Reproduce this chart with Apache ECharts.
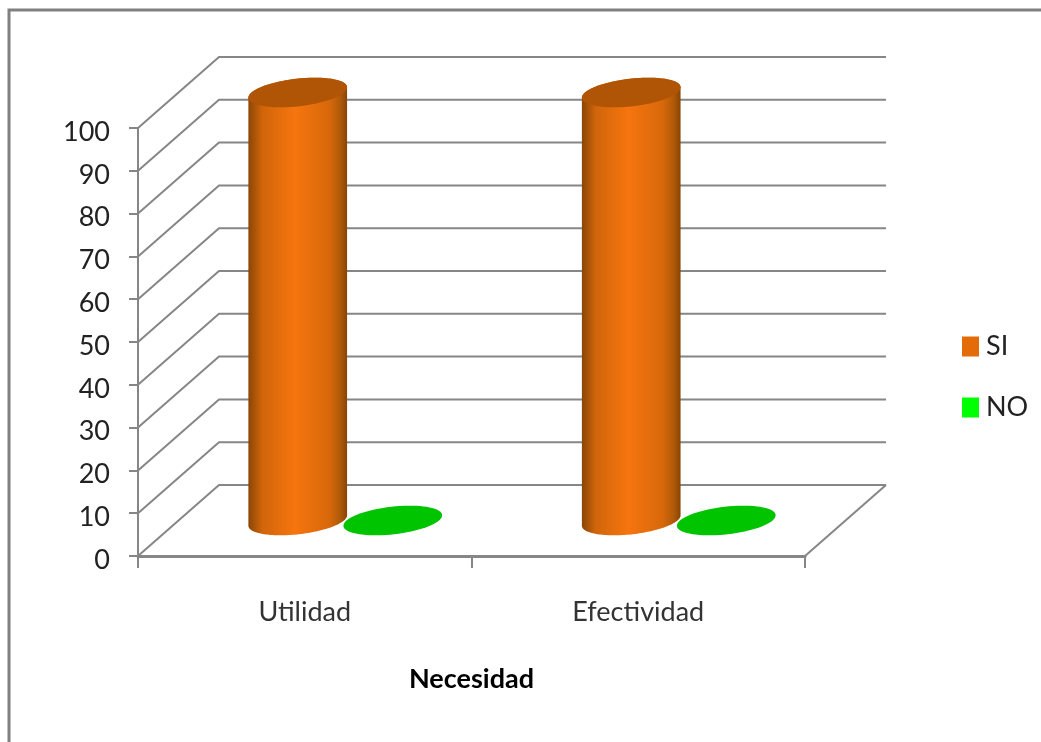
<!DOCTYPE html>
<html>
<head>
<meta charset="utf-8">
<style>html,body{margin:0;padding:0;background:#fff}#chart{width:1041px;height:742px}</style>
<script src="https://cdn.jsdelivr.net/npm/echarts@6/dist/echarts.min.js"></script>
</head>
<body>
<div id="chart"></div>
<script>
// Survey answers per need, in percent
const categories = ['Utilidad', 'Efectividad'];
const siValues = [100, 100];
const noValues = [0, 0];
const gridTicks = [0, 10, 20, 30, 40, 50, 60, 70, 80, 90, 100];

const FONT = 'Lato, "Open Sans", sans-serif';
const WALL = '#868686';
// Oblique projection of the chart box
const DEPTH_X = 81, DEPTH_Y = -71;
const BAR_BAND = 0.285;      // cylinder width as a share of the category band
const TILT = -6.5 * Math.PI / 180;

const chart = echarts.init(document.getElementById('chart'), null, {renderer: 'canvas'});

function ellipsePoints(cx, cy, a, b, from, to) {
  const pts = [];
  const n = 72;
  for (let i = 0; i <= n; i++) {
    const t = from + (to - from) * i / n;
    const x = a * Math.cos(t), y = b * Math.sin(t);
    pts.push([cx + x * Math.cos(TILT) - y * Math.sin(TILT),
              cy + x * Math.sin(TILT) + y * Math.cos(TILT)]);
  }
  return pts;
}

// Cylinder standing on the mid-depth of the floor, side-by-side within its category
function cylinder(slot, topColor, sideStops) {
  return function (params, api) {
    const band = api.size([1, 0])[0];
    const width = band * BAR_BAND;
    const a = width / 2 * 1.045, b = width * 0.145;
    const base = api.coord([api.value(0), 0]);
    const head = api.coord([api.value(0), api.value(1)]);
    const cx = base[0] + slot * width / 2 + DEPTH_X / 2;
    const y0 = base[1] + DEPTH_Y / 2;
    const y1 = head[1] + DEPTH_Y / 2;
    const children = [];
    if (y0 - y1 > 0.5) {
      const lower = ellipsePoints(cx, y0, a, b, 0, Math.PI);
      const upper = ellipsePoints(cx, y1, a, b, Math.PI, 2 * Math.PI);
      children.push({
        type: 'polygon',
        shape: {points: lower.concat(upper)},
        style: {fill: new echarts.graphic.LinearGradient(0, 0, 1, 0, sideStops)}
      });
    }
    children.push({
      type: 'polygon',
      shape: {points: ellipsePoints(cx, y1, a, b, 0, 2 * Math.PI)},
      style: {fill: topColor}
    });
    return {type: 'group', children};
  };
}

const siSide = [
  {offset: 0, color: '#8a4606'},
  {offset: 0.14, color: '#d0650a'},
  {offset: 0.47, color: '#f6750f'},
  {offset: 0.82, color: '#d8680a'},
  {offset: 0.93, color: '#b05a08'},
  {offset: 1, color: '#874505'}
];
const noSide = [
  {offset: 0, color: '#008a00'},
  {offset: 0.45, color: '#00ff00'},
  {offset: 1, color: '#008a00'}
];

const pair = (values) => values.map((v, i) => [i, v]);

chart.setOption({
  animation: false,
  backgroundColor: '#fff',
  graphic: [{
    type: 'polyline',
    shape: {points: [[9, 742], [9, 10], [1041, 10]]},
    style: {stroke: '#808080', lineWidth: 3, fill: 'none'},
    silent: true
  }],
  legend: {
    left: 962,
    top: 333,
    padding: 0,
    orient: 'vertical',
    icon: 'rect',
    itemWidth: 17,
    itemHeight: 20,
    itemGap: 34,
    data: ['SI', 'NO'],
    textStyle: {fontFamily: FONT, fontSize: 27, lineHeight: 20, color: '#222', padding: [0, 0, 0, 2]}
  },
  grid: {left: 138, top: 128, width: 667, height: 428},
  xAxis: {
    type: 'category',
    data: categories,
    boundaryGap: true,
    name: 'Necesidad',
    nameLocation: 'middle',
    nameGap: 110,
    nameTextStyle: {fontFamily: FONT, fontSize: 27, fontWeight: 'bold', color: '#000'},
    axisLine: {lineStyle: {color: WALL, width: 3}},
    axisTick: {show: true, length: 12, lineStyle: {color: WALL, width: 2}},
    axisLabel: {fontFamily: FONT, fontSize: 27, color: '#333', margin: 43}
  },
  yAxis: {
    type: 'value',
    min: 0,
    max: 100,
    interval: 10,
    splitLine: {show: false},
    axisLine: {show: true, lineStyle: {color: WALL, width: 2}},
    axisTick: {show: true, length: 9, lineStyle: {color: WALL, width: 2}},
    axisLabel: {
      margin: 28,
      formatter: '{tick|{value}}',
      rich: {tick: {fontFamily: FONT, fontSize: 27, color: '#222', padding: [8, 0, 0, 0]}}
    }
  },
  series: [
    {
      // Side wall, back wall and floor edge of the box
      type: 'custom',
      name: 'walls',
      silent: true,
      clip: false,
      z: 1,
      data: gridTicks,
      encode: {y: 0},
      renderItem(params, api) {
        const v = api.value(0);
        const left = api.coord([0, v]);
        const band = api.size([1, 0])[0];
        const x0 = left[0] - band / 2;
        const x1 = left[0] + band * (categories.length - 0.5);
        const y = left[1];
        const stroke = {stroke: WALL, lineWidth: 2, fill: 'none'};
        const children = [{
          type: 'polyline',
          shape: {points: [[x0, y], [x0 + DEPTH_X, y + DEPTH_Y], [x1 + DEPTH_X, y + DEPTH_Y]]},
          style: stroke
        }];
        if (v === 0) {
          children.push({
            type: 'line',
            shape: {x1: x1, y1: y, x2: x1 + DEPTH_X, y2: y + DEPTH_Y},
            style: stroke
          });
        }
        return {type: 'group', children};
      }
    },
    {
      type: 'custom',
      name: 'SI',
      clip: false,
      z: 3,
      itemStyle: {color: '#e36c09'},
      data: pair(siValues),
      encode: {x: 0, y: 1},
      renderItem: cylinder(-1, '#b05406', siSide)
    },
    {
      type: 'custom',
      name: 'NO',
      clip: false,
      z: 4,
      itemStyle: {color: '#00ff00'},
      data: pair(noValues),
      encode: {x: 0, y: 1},
      renderItem: cylinder(1, '#00c400', noSide)
    }
  ]
});
</script>
</body>
</html>
